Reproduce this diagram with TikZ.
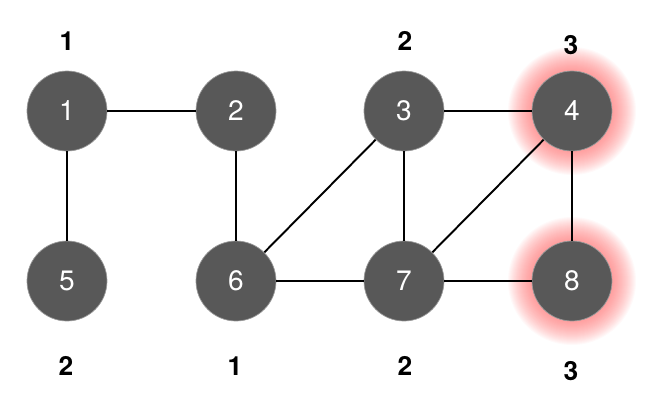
\documentclass[tikz,border=0pt]{standalone}
\usepackage{fontspec}
\setmainfont{TeX Gyre Heros}
\definecolor{nodegray}{RGB}{88,88,88}
\definecolor{glowred}{RGB}{255,90,90}
\tikzset{
	vert/.style={circle, fill=nodegray, draw=gray!80, line width=0.4pt, minimum size=1.6cm, inner sep=0pt, text=white, font=\fontsize{16}{18}\selectfont},
	tag/.style={font=\bfseries\fontsize{15}{18}\selectfont},
	edge/.style={-, line width=1.1pt}
}
\begin{document}
\begin{tikzpicture}[x=0.02cm, y=-0.02cm]
		\useasboundingbox (0,0) rectangle (654,417);

		% soft red glow round 4 and 8
		\foreach \r in {41,42,...,64} {
			\fill[glowred, fill opacity=0.035] (572,111) circle (\r);
			\fill[glowred, fill opacity=0.035] (572,281) circle (\r);
		}

		\node[vert] (n1) at (67,111) {1};
		\node[vert] (n2) at (236,111) {2};
		\node[vert] (n3) at (404,111) {3};
		\node[vert] (n4) at (572,111) {4};
		\node[vert] (n5) at (67,281) {5};
		\node[vert] (n6) at (236,281) {6};
		\node[vert] (n7) at (404,281) {7};
		\node[vert] (n8) at (572,281) {8};

		\draw[edge] (n1) -- (n2);
		\draw[edge] (n1) -- (n5);
		\draw[edge] (n2) -- (n6);
		\draw[edge] (n3) -- (n6);
		\draw[edge] (n3) -- (n4);
		\draw[edge] (n3) -- (n7);
		\draw[edge] (n4) -- (n7);
		\draw[edge] (n4) -- (n8);
		\draw[edge] (n6) -- (n7);
		\draw[edge] (n7) -- (n8);

		\node[tag] (t1) at (67,41) {1};
		\node[tag] (t3) at (405,41) {2};
		\node[tag] (t4) at (571,45) {3};
		\node[tag] (t5) at (66,366) {2};
		\node[tag] (t6) at (235,366) {1};
		\node[tag] (t7) at (405,366) {2};
		\node[tag] (t8) at (571,371) {3};
	\end{tikzpicture}
\end{document}
